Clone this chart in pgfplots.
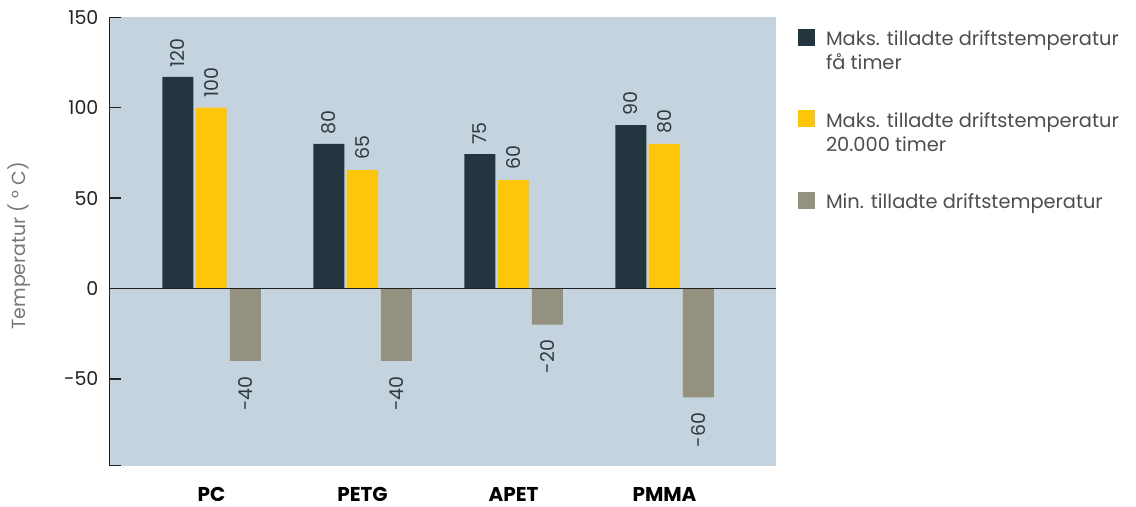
\documentclass[border=0pt]{standalone}
\usepackage{pgfplots}
\pgfplotsset{compat=1.18}
\usepackage{fontspec}
\setmainfont{Poppins}
\definecolor{bg}{HTML}{C5D3DE}
\definecolor{dark}{HTML}{23353F}
\definecolor{yel}{HTML}{FEC60B}
\definecolor{gry}{HTML}{959180}
\definecolor{txt}{HTML}{222222}
\definecolor{lab}{HTML}{2E3B44}
\definecolor{leg}{HTML}{4D4D4D}
\definecolor{ylab}{HTML}{777777}
\begin{document}
\fontsize{9.5}{12}\selectfont
\begin{tikzpicture}
\useasboundingbox (-54.75pt,-20.65pt) rectangle (513.25pt,232.85pt);
\begin{axis}[
  width=333.25pt, height=224.2pt, scale only axis,
  xmin=-0.6755, xmax=3.7384, ymin=-98, ymax=150,
  ybar,
  axis background/.style={fill=bg},
  axis x line*=bottom, axis y line*=left,
  x axis line style={draw=none},
  y axis line style={draw=txt, line width=0.75pt, -},
  ytick={-98,-50,0,50,100,150},
  yticklabels={,-50,0,50,100,150},
  tick align=inside, major tick length=6pt,
  ytick style={draw=txt, line width=0.75pt},
  xtick={0,1,2,3},
  xticklabels={PC,PETG,APET,PMMA},
  xtick style={draw=none},
  xticklabel style={font=\fontsize{10}{12}\selectfont\bfseries, text=black, anchor=north, inner sep=0pt, yshift=-10.5pt},
  yticklabel style={font=\fontsize{9.5}{12}\selectfont, text=txt, anchor=east, inner sep=0pt, xshift=-5.35pt},
  ylabel={Temperatur ( ° C)},
  ylabel style={at={(axis description cs:-0.135,0.49)}, anchor=center, text=ylab, font=\fontsize{9.5}{12}\selectfont},
  legend style={at={(axis description cs:1.033,0.9739)}, anchor=north west, draw=none, fill=none,
    inner sep=0pt, outer sep=0pt, row sep=30.8pt, column sep=5.5pt,
    font=\fontsize{9.7}{12}\selectfont,
    nodes={inner sep=0pt, text=leg}, cells={anchor=base west}},
  clip=false,
]
\addplot[fill=dark, draw=none, bar width=0.2053, bar shift=0pt,
  legend image code/.code={\fill[dark] (0pt,0pt) rectangle (8.5pt,8.5pt);},
  nodes near coords, point meta=explicit symbolic,
  every node near coord/.style={rotate=90, anchor=west, inner xsep=4.6pt, inner ysep=0pt, text=lab, font=\fontsize{9.5}{12}\selectfont}]
  coordinates {(-0.222,117) [120] (0.778,80) [80] (1.778,74.3) [75] (2.778,90.4) [90]};
\addlegendentry{\begin{tabular}[t]{@{}l@{}}Maks. tilladte driftstemperatur\\få timer\end{tabular}}
\addplot[fill=yel, draw=none, bar width=0.2053, bar shift=0pt,
  legend image code/.code={\fill[yel] (0pt,0pt) rectangle (8.5pt,8.5pt);},
  nodes near coords, point meta=explicit symbolic,
  every node near coord/.style={rotate=90, anchor=west, inner xsep=4.9pt, inner ysep=0pt, text=lab, font=\fontsize{9.5}{12}\selectfont}]
  coordinates {(0,100) [100] (1,65.5) [65] (2,60) [60] (3,80) [80]};
\addlegendentry{\begin{tabular}[t]{@{}l@{}}Maks. tilladte driftstemperatur\\20.000 timer\end{tabular}}
\addplot[fill=gry, draw=none, bar width=0.2053, bar shift=0pt,
  legend image code/.code={\fill[gry] (0pt,0pt) rectangle (8.5pt,8.5pt);},
  nodes near coords, point meta=explicit symbolic,
  every node near coord/.style={rotate=90, anchor=east, inner xsep=7.5pt, inner ysep=0pt, text=lab, font=\fontsize{9.5}{12}\selectfont}]
  coordinates {(0.225,-40) [-40] (1.225,-40) [-40] (2.225,-20) [-20] (3.225,-60.2) [-60]};
\addlegendentry{\begin{tabular}[t]{@{}l@{}}Min. tilladte driftstemperatur\end{tabular}}
\draw[line width=0.9pt, draw=txt] (axis cs:-0.6755,0) -- (axis cs:3.7384,0);
\end{axis}
\end{tikzpicture}
\end{document}
